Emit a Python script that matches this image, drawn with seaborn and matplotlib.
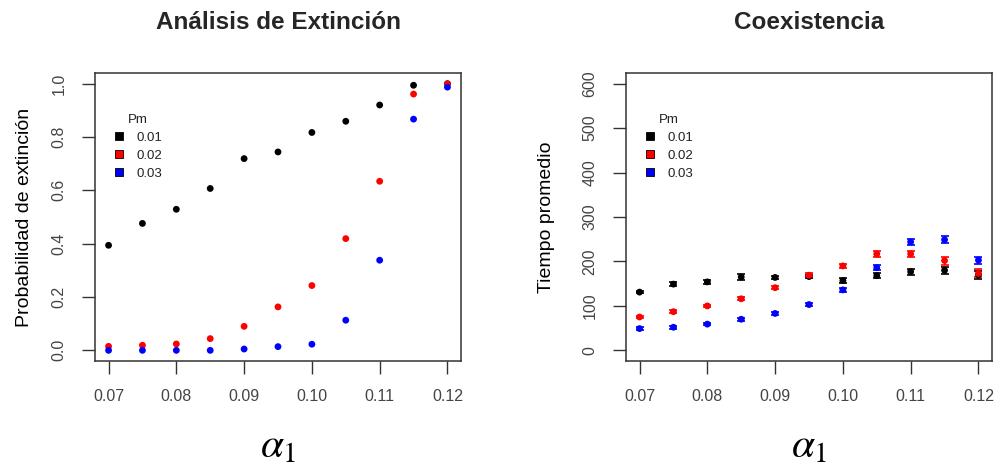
import numpy as np
import pandas as pd
import matplotlib
matplotlib.use("Agg")
import matplotlib.pyplot as plt
import seaborn as sns
from matplotlib.lines import Line2D

# ---------------- data ----------------
alpha1 = [0.07, 0.075, 0.08, 0.085, 0.09, 0.095, 0.10, 0.105, 0.11, 0.115, 0.12]
pm_levels = ["0.01", "0.02", "0.03"]
pm_colors = ["#000000", "#FF0000", "#0000FF"]

# Probabilidad de extinción
prob_001 = [0.394, 0.476, 0.529, 0.607, 0.719, 0.744, 0.817, 0.859, 0.920, 0.994, 1.000]
prob_002 = [0.015, 0.019, 0.024, 0.044, 0.090, 0.163, 0.243, 0.419, 0.634, 0.961, 0.999]
prob_003 = [0.000, 0.000, 0.000, 0.000, 0.005, 0.014, 0.023, 0.113, 0.338, 0.867, 0.987]

# Tiempo promedio de coexistencia (media y error)
time_001 = [131, 149, 154, 165, 164, 166, 157, 168, 177, 180, 170]
time_002 = [75, 87, 100, 116, 141, 169, 190, 217, 217, 202, 173]
time_003 = [49, 52, 59, 70, 83, 103, 136, 186, 244, 249, 203]
err_001 = [3, 4, 4, 6, 4, 4, 5, 6, 7, 8, 9]
err_002 = [3, 3, 3, 3, 4, 4, 4, 6, 6, 9, 9]
err_003 = [3, 3, 3, 3, 3, 3, 4, 6, 7, 8, 8]

x_ticks = [0.07, 0.08, 0.09, 0.10, 0.11, 0.12]
x_ticklabels = ["0.07", "0.08", "0.09", "0.10", "0.11", "0.12"]
prob_ticks = [0.0, 0.2, 0.4, 0.6, 0.8, 1.0]
prob_ticklabels = ["0.0", "0.2", "0.4", "0.6", "0.8", "1.0"]
time_ticks = [0, 100, 200, 300, 400, 500, 600]
time_ticklabels = ["0", "100", "200", "300", "400", "500", "600"]

# ---------------- long tables ----------------
prob_df = pd.DataFrame({
    "alpha1": alpha1 * 3,
    "Pm": [pm_levels[0]] * len(alpha1) + [pm_levels[1]] * len(alpha1) + [pm_levels[2]] * len(alpha1),
    "value": prob_001 + prob_002 + prob_003,
})
time_df = pd.DataFrame({
    "alpha1": alpha1 * 3,
    "Pm": [pm_levels[0]] * len(alpha1) + [pm_levels[1]] * len(alpha1) + [pm_levels[2]] * len(alpha1),
    "value": time_001 + time_002 + time_003,
    "err": err_001 + err_002 + err_003,
})

# ---------------- style ----------------
sns.set_theme(style="white")
plt.rcParams["font.family"] = ["Liberation Sans", "DejaVu Sans"]
plt.rcParams["mathtext.fontset"] = "stix"

palette = dict(zip(pm_levels, pm_colors))
fig = plt.figure(figsize=(10, 4.68), dpi=100)
axL = fig.add_axes([0.095, 0.2286, 0.366, 0.6154])
axR = fig.add_axes([0.626, 0.2286, 0.366, 0.6154])

tick_color = "#444444"
spine_color = "#333333"


def style_axis(ax, yticks, yticklabels, ylim, ylabel, title, ylabel_x):
    ax.set_xlim(0.068, 0.122)
    ax.set_ylim(*ylim)
    ax.set_xticks(x_ticks)
    ax.set_xticklabels(x_ticklabels)
    ax.set_yticks(yticks)
    ax.set_yticklabels(yticklabels, rotation=90, va="center")
    ax.tick_params(axis="both", direction="out", length=9.5, width=1.0,
                   color=spine_color, labelcolor=tick_color, labelsize=11.5,
                   bottom=True, left=True)
    ax.tick_params(axis="x", pad=11)
    ax.tick_params(axis="y", pad=11)
    for s in ax.spines.values():
        s.set_visible(True)
        s.set_color(spine_color)
        s.set_linewidth(1.1)
    ax.set_ylabel(ylabel, fontsize=14, color="#000000")
    ax.yaxis.set_label_coords(ylabel_x, 0.5)
    ax.set_xlabel(r"$\alpha_1$", fontsize=30, color="#000000")
    ax.xaxis.set_label_coords(0.5, -0.225)
    ax.set_title(title, fontsize=17.5, fontweight="bold", pad=32)
    handles = [Line2D([0], [0], marker="s", linestyle="none", markersize=5.8,
                      markerfacecolor=c, markeredgecolor="#000000",
                      markeredgewidth=0.6) for c in pm_colors]
    leg = ax.legend(handles, pm_levels, title="Pm", loc="upper left",
                    bbox_to_anchor=(0.037, 0.875), frameon=False,
                    fontsize=9.5, title_fontsize=9.5, handlelength=0.8,
                    handletextpad=0.9, labelspacing=0.42, borderaxespad=0)
    for t in leg.get_texts():
        t.set_color("#222222")
    leg.get_title().set_color("#222222")


# Left: probability of extinction
sns.scatterplot(data=prob_df, x="alpha1", y="value", hue="Pm", palette=palette,
                hue_order=pm_levels, s=24, linewidth=0, legend=False, ax=axL, zorder=3)
style_axis(axL, prob_ticks, prob_ticklabels, (-0.04, 1.04),
           "Probabilidad de extinción", "Análisis de Extinción", -0.17)

# Right: mean coexistence time with error bars
for lvl, col in zip(pm_levels, pm_colors):
    sub = time_df[time_df["Pm"] == lvl]
    axR.errorbar(sub["alpha1"], sub["value"], yerr=sub["err"], fmt="none",
                 ecolor=col, elinewidth=1.2, capsize=3.2, capthick=1.2, zorder=2)
sns.scatterplot(data=time_df, x="alpha1", y="value", hue="Pm", palette=palette,
                hue_order=pm_levels, s=24, linewidth=0, legend=False, ax=axR, zorder=3)
style_axis(axR, time_ticks, time_ticklabels, (-24, 624),
           "Tiempo promedio", "Coexistencia", -0.195)

fig.savefig("out.png", dpi=100)
